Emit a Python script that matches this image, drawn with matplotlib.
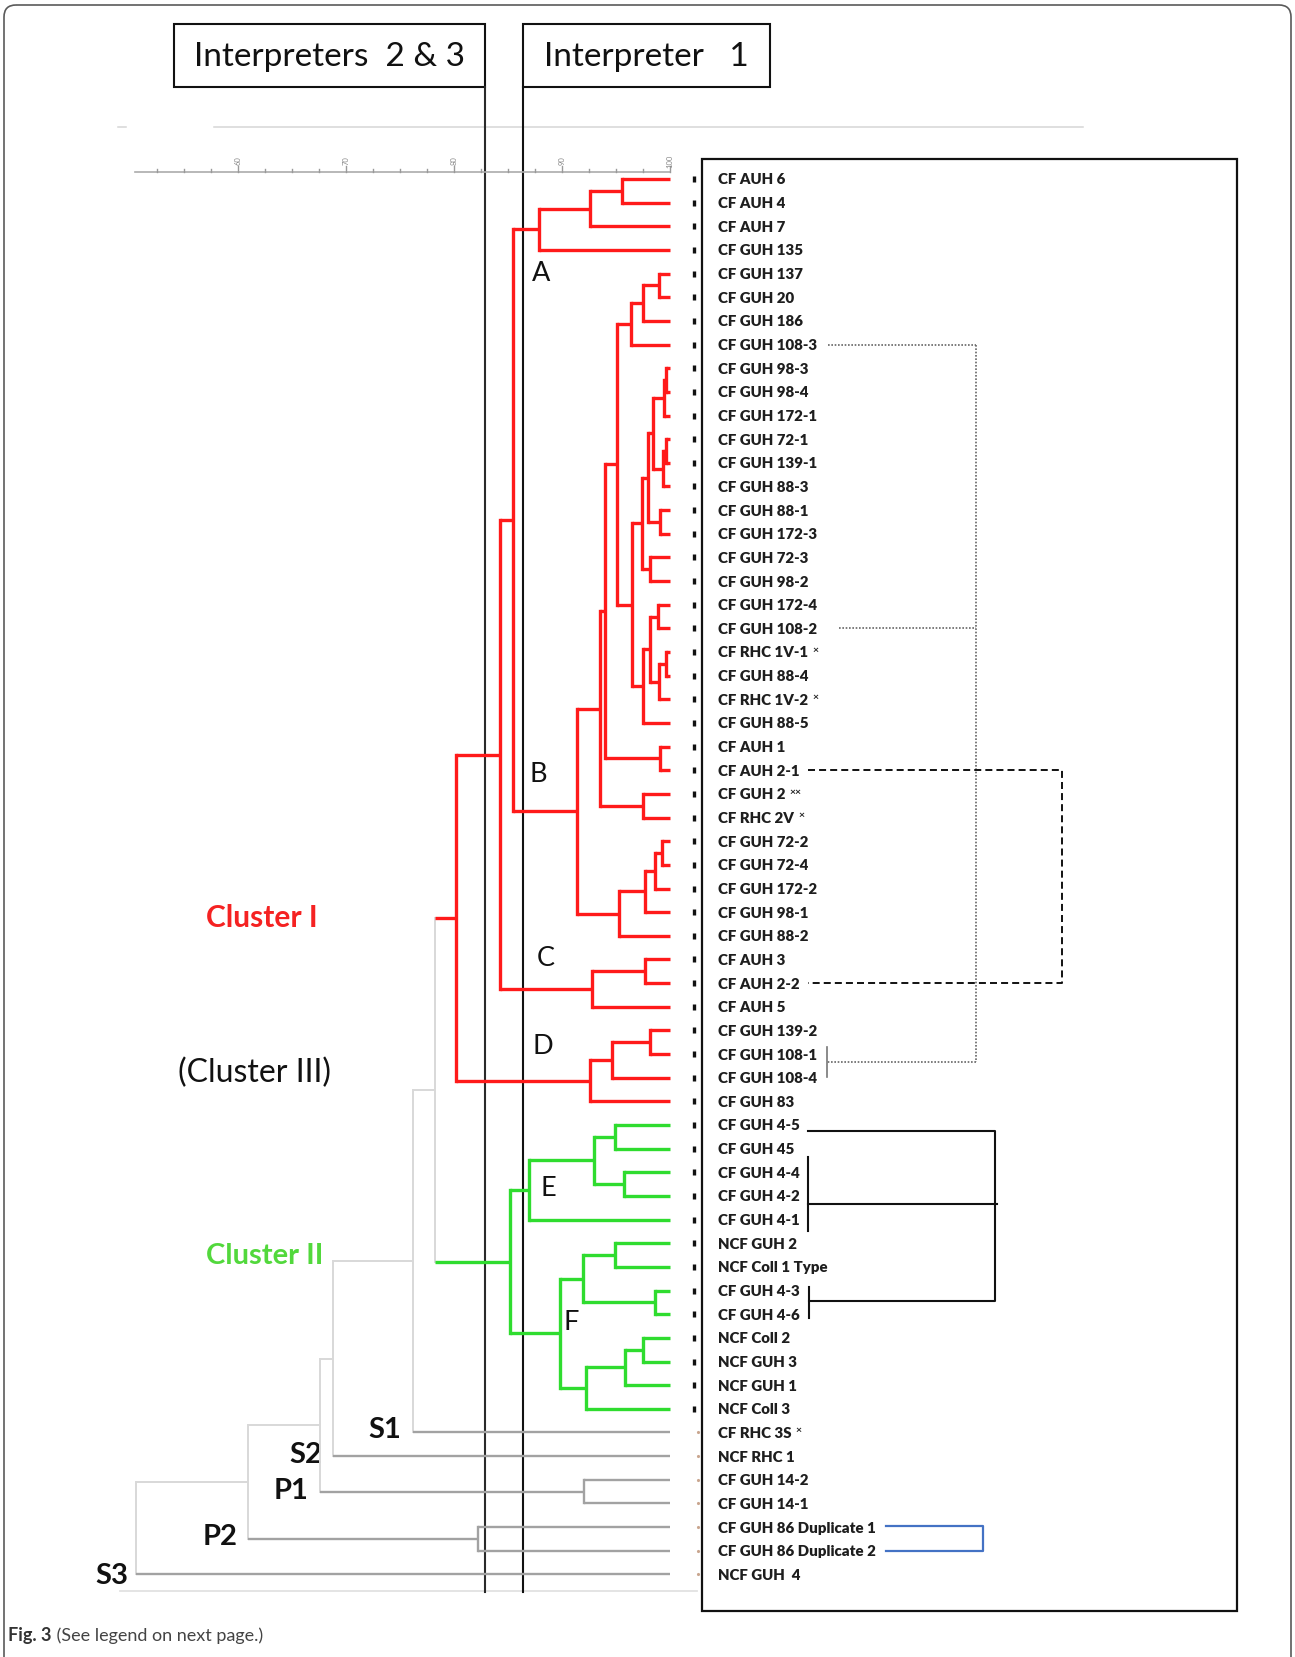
import matplotlib
matplotlib.use("Agg")
import numpy as np
import matplotlib.pyplot as plt
from matplotlib.transforms import blended_transform_factory
from matplotlib.patches import Rectangle, FancyBboxPatch

plt.rcParams["font.family"] = ["Lato", "DejaVu Sans"]

# ---------------------------------------------------------------- data
leaf_labels = [
    "CF AUH 6", "CF AUH 4", "CF AUH 7", "CF GUH 135", "CF GUH 137",
    "CF GUH 20", "CF GUH 186", "CF GUH 108-3", "CF GUH 98-3", "CF GUH 98-4",
    "CF GUH 172-1", "CF GUH 72-1", "CF GUH 139-1", "CF GUH 88-3", "CF GUH 88-1",
    "CF GUH 172-3", "CF GUH 72-3", "CF GUH 98-2", "CF GUH 172-4", "CF GUH 108-2",
    "CF RHC 1V-1", "CF GUH 88-4", "CF RHC 1V-2", "CF GUH 88-5", "CF AUH 1",
    "CF AUH 2-1", "CF GUH 2", "CF RHC 2V", "CF GUH 72-2", "CF GUH 72-4",
    "CF GUH 172-2", "CF GUH 98-1", "CF GUH 88-2", "CF AUH 3", "CF AUH 2-2",
    "CF AUH 5", "CF GUH 139-2", "CF GUH 108-1", "CF GUH 108-4", "CF GUH 83",
    "CF GUH 4-5", "CF GUH 45", "CF GUH 4-4", "CF GUH 4-2", "CF GUH 4-1",
    "NCF GUH 2", "NCF Coll 1 Type", "CF GUH 4-3", "CF GUH 4-6", "NCF Coll 2",
    "NCF GUH 3", "NCF GUH 1", "NCF Coll 3", "CF RHC 3S", "NCF RHC 1",
    "CF GUH 14-2", "CF GUH 14-1", "CF GUH 86 Duplicate 1", "CF GUH 86 Duplicate 2",
    "NCF GUH  4",
]
leaf_notes = [""] * len(leaf_labels)
for i, note in [(20, "×"), (22, "×"), (26, "××"), (27, "×"), (53, "×")]:
    leaf_notes[i] = note

leaf_groups = ["I"] * 40 + ["II"] * 13 + ["out"] * 7

# agglomeration steps: (child a, child b, % similarity); leaves are 0..59,
# step k creates node 60 + k
merges = [
    (0, 1, 95.6), (60, 2, 92.6), (61, 3, 87.9),                      # A
    (4, 5, 99.0), (63, 6, 97.5), (64, 7, 96.4),
    (8, 9, 99.6), (66, 10, 99.4), (11, 12, 99.6), (68, 13, 99.35),
    (67, 69, 98.4), (14, 15, 99.1), (70, 71, 98.0), (16, 17, 98.15),
    (72, 73, 97.4), (18, 19, 98.9), (20, 21, 99.6), (76, 22, 98.98),
    (75, 77, 98.15), (78, 23, 97.5), (74, 79, 96.5), (65, 80, 95.1),
    (24, 25, 99.1), (81, 82, 94.0), (26, 27, 97.5), (83, 84, 93.5),
    (28, 29, 99.3), (86, 30, 98.6), (87, 31, 97.7), (88, 32, 95.3),
    (85, 89, 91.4),                                                  # B
    (62, 90, 85.5),
    (33, 34, 97.7), (92, 35, 92.8),                                  # C
    (91, 93, 84.3),
    (36, 37, 98.15), (95, 38, 94.6), (96, 39, 92.6),                 # D
    (94, 97, 80.2),                                                  # Cluster I
    (40, 41, 94.9), (42, 43, 95.7), (99, 100, 93.0), (101, 44, 86.9),  # E
    (45, 46, 94.9), (47, 48, 98.6), (103, 104, 91.9),
    (49, 50, 97.5), (106, 51, 95.8), (107, 52, 92.2), (105, 108, 89.8),  # F
    (102, 109, 85.2),                                                # Cluster II
    (98, 110, 78.2),
    (111, 53, 76.2),                                                 # S1
    (112, 54, 68.8),                                                 # S2
    (55, 56, 92.0), (113, 114, 67.6),                                # P1
    (57, 58, 82.2), (115, 116, 60.9),                                # P2
    (117, 59, 50.6),                                                 # S3
]

scale_major = [60, 70, 80, 90, 100]

# ---------------------------------------------------------------- layout
W, H, DPI = 1295, 1658, 100
fig = plt.figure(figsize=(W / DPI, H / DPI), dpi=DPI)
fig.patch.set_facecolor("white")

# pixel-space axes for the frame, boxes and annotations
ax_px = fig.add_axes([0, 0, 1, 1])
ax_px.set_xlim(0, W)
ax_px.set_ylim(H, 0)
ax_px.axis("off")

# dendrogram axes: x = % similarity, y = leaf order
PX_100, PX_PER_PCT = 670.0, 10.8
ROW0, ROW_H = 180.0, 23.65
ax = fig.add_axes([0, 0, 1, 1], facecolor="none")
ax.set_xlim(100 - PX_100 / PX_PER_PCT, 100 + (W - PX_100) / PX_PER_PCT)
ax.set_ylim((H - ROW0) / ROW_H, -ROW0 / ROW_H)
ax.axis("off")

sim_px = blended_transform_factory(ax.transData, ax_px.transData)
px_row = blended_transform_factory(ax_px.transData, ax.transData)

RED, GREEN = "#ff1a1a", "#2fdc2f"
GREY, LIGHT = "#a2a2a2", "#d8d8d8"


def link_style(groups):
    if groups == {"I"}:
        return RED, 2.4
    if groups == {"II"}:
        return GREEN, 2.4
    if groups == {"out"}:
        return GREY, 1.7
    return LIGHT, 1.4


n = len(leaf_labels)
pos_x = {i: 100.0 for i in range(n)}
pos_y = {i: float(i) for i in range(n)}
members = {i: {leaf_groups[i]} for i in range(n)}
for k, (a, b, s) in enumerate(merges):
    node = n + k
    pos_x[node] = s
    pos_y[node] = (pos_y[a] + pos_y[b]) / 2
    members[node] = members[a] | members[b]

for k, (a, b, s) in enumerate(merges):
    node = n + k
    c, lw = link_style(members[node])
    ax.plot([s, s], [pos_y[a], pos_y[b]], color=c, lw=lw,
            solid_capstyle="projecting", zorder=2)
    for ch in (a, b):
        c2, lw2 = link_style(members[ch])
        ax.plot([s, pos_x[ch]], [pos_y[ch], pos_y[ch]], color=c2, lw=lw2,
                solid_capstyle="butt", zorder=2)

# similarity scale
AX_Y = 173
ax.plot([50.5, 100], [AX_Y, AX_Y], transform=sim_px, color="#ababab", lw=1.2)
for s in np.arange(52.5, 100.01, 2.5):
    ln = 6 if s in scale_major else 3
    ax.plot([s, s], [AX_Y, AX_Y - ln], transform=sim_px, color="#9a9a9a", lw=1)
for s in scale_major:
    ax.text(s, AX_Y - 12, str(s), transform=sim_px, rotation=90, fontsize=5.5,
            color="#8a8a8a", ha="center", va="center")
ax_px.plot([214, 1083], [128, 128], color="#d6d6d6", lw=1.1)
ax_px.plot([118, 126], [128, 128], color="#d6d6d6", lw=1.1)

# leaf labels, markers
for i, (lab, note) in enumerate(zip(leaf_labels, leaf_notes)):
    t = ax.text(718, i, lab, transform=px_row, fontsize=10.8, fontweight="heavy",
                color="#1e1e1e", ha="left", va="center")
    if note:
        ax.annotate(note, xy=(1, 0.72), xycoords=t, xytext=(3, 0),
                    textcoords="offset points", fontsize=7.5, fontweight="bold",
                    color="#222222", ha="left", va="center")
    if leaf_groups[i] != "out":
        ax.plot(694, i, transform=px_row, marker="|", ms=5, mew=2.4, color="#111111")
    else:
        ax.plot(698, i, transform=px_row, marker=".", ms=2.5, color="#c9a68f")

# list frame
ax_px.add_patch(Rectangle((702, 160), 535, 1452, fill=False, ec="#111111", lw=1.6))

# links between isolates (right side)
dot = dict(color="#666666", lw=1.2, ls=(0, (1, 1)))
ax.plot([828, 976], [7, 7], transform=px_row, **dot)
ax.plot([839, 976], [19, 19], transform=px_row, **dot)
ax.plot([976, 976], [7, 37.35], transform=px_row, **dot)
ax.plot([976, 827], [37.35, 37.35], transform=px_row, **dot)
ax.plot([827, 827], [36.7, 37.95], transform=px_row, color="#777777", lw=1.2)

dash = dict(color="#111111", lw=1.4, ls=(0, (3.6, 2.1)))
ax.plot([808, 1062, 1062, 808], [25, 25, 34, 34], transform=px_row, **dash)

solid = dict(color="#111111", lw=1.5)
ax.plot([808, 995, 995, 809], [40.25, 40.25, 47.45, 47.45], transform=px_row, **solid)
ax.plot([809, 809], [46.85, 48.16], transform=px_row, **solid)
ax.plot([808, 808], [41.35, 44.48], transform=px_row, **solid)
ax.plot([808, 997], [43.34, 43.34], transform=px_row, **solid)

ax.plot([886, 983, 983, 886], [56.95, 56.95, 58.0, 58.0], transform=px_row,
        color="#4472c4", lw=1.6)

# interpreter cut-offs
for x0, w, label in [(174, 311, "Interpreters  2 & 3"), (523, 247, "Interpreter   1")]:
    ax_px.add_patch(Rectangle((x0, 25), w, 63, fill=False, ec="#111111", lw=1.5, zorder=5))
    ax_px.text(x0 + w / 2, 57, label, fontsize=24, color="#111111",
               ha="center", va="center", zorder=5)
ax_px.plot([485, 485], [88, 1593], color="#2a2a2a", lw=1.5, zorder=6)
ax_px.plot([523, 523], [88, 1593], color="#111111", lw=1.5, zorder=6)
ax_px.plot([120, 697], [1592, 1592], color="#e2e2e2", lw=1.3, zorder=1)

# cluster annotations
ax_px.text(206, 918, "Cluster I", fontsize=21.5, fontweight="bold", color="#f52222",
           ha="left", va="center")
ax_px.text(178, 1073, "(Cluster III)", fontsize=23, color="#111111",
           ha="left", va="center")
ax_px.text(206, 1256, "Cluster II", fontsize=21, fontweight="bold", color="#52d83c",
           ha="left", va="center")
for letter, x, y in [("A", 541, 273), ("B", 538, 775), ("C", 546, 958),
                     ("D", 543, 1047), ("E", 548, 1188), ("F", 571, 1323)]:
    ax_px.text(x, y, letter, fontsize=19.5, color="#111111", ha="center", va="center")
for lab, x, y in [("S1", 401, 1430), ("S2", 322, 1455), ("P1", 309, 1491),
                  ("P2", 238, 1537), ("S3", 128, 1576)]:
    ax_px.text(x, y, lab, fontsize=21, fontweight="bold", color="#111111",
               ha="right", va="center")

# outer panel and caption
ax_px.add_patch(FancyBboxPatch((4, 6), 1287, 1700, boxstyle="round,pad=0,rounding_size=12",
                               fill=False, ec="#5a5a5a", lw=1.2, clip_on=True))
cap = ax_px.text(8, 1636, "Fig. 3", fontsize=13, fontweight="bold", color="#333333",
                 ha="left", va="center")
ax_px.annotate(" (See legend on next page.)", xy=(1, 0.5), xycoords=cap,
               fontsize=13, color="#444444", ha="left", va="center")

fig.savefig("out.png", dpi=DPI, facecolor="white")
